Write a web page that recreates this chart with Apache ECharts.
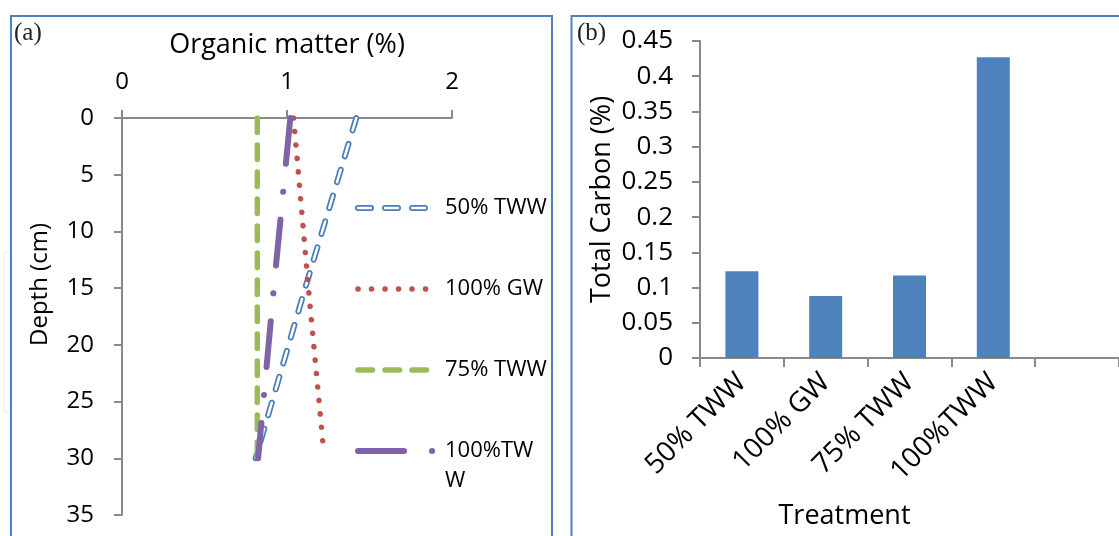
<!DOCTYPE html>
<html><head><meta charset="utf-8">
<script src="https://cdn.jsdelivr.net/npm/echarts@6/dist/echarts.min.js"></script>
<style>html,body{margin:0;padding:0;background:#fff}#c{width:1119px;height:536px}</style>
</head><body><div id="c"></div>
<script>
// ---- data (panel a: organic matter vs depth) ----
const seriesNames = ['50% TWW', '100% GW', '75% TWW', '100%TWW'];
const depths = [0, 15, 30];
const gwDepths = [0, 15, 29];
const om50TWW = [1.42, 1.11, 0.81];
const om100GW = [1.04, 1.13, 1.22];
const om75TWW = [0.82, 0.82, 0.82];
const om100TWW = [1.02, 0.92, 0.825];
const omTicks = [0, 1, 2];
const depthTicks = [0, 5, 10, 15, 20, 25, 30, 35];
// ---- data (panel b: total carbon) ----
const treatments = ['50% TWW', '100% GW', '75% TWW', '100%TWW'];
const totalCarbon = [0.123, 0.088, 0.117, 0.427];

const FONT = "'Open Sans', sans-serif";
const AX = '#8a8a8a';
const C = { blue: '#4a7ebb', red: '#c0504d', green: '#9bbb59', purple: '#7f63a6', bar: '#4f81bd', frame: '#4f81bd' };
const pairs = (xs, ys) => xs.map((x, i) => [x, ys[i]]);

const dashBlue = [13, 14], dotRed = [0.1, 13.4], dashGreen = [14.5, 12.5], dashPurple = [46, 28, 0.1, 28];

function lineSeries(name, data, color, width, dash) {
  return { type: 'line', name, xAxisIndex: 0, yAxisIndex: 0, data, symbol: 'none', silent: true,
    lineStyle: { color, width, type: dash, cap: 'round' } };
}

// legend drawn as graphics
const legendY = [208, 289, 370, 451];
const legendStyles = [
  [{ c: C.blue, w: 6, d: dashBlue }, { c: '#fff', w: 2.5, d: dashBlue }],
  [{ c: C.red, w: 5.5, d: dotRed }],
  [{ c: C.green, w: 5.5, d: dashGreen }],
  [{ c: C.purple, w: 6, d: dashPurple }]
];
const graphics = [];
legendY.forEach((y, i) => {
  legendStyles[i].forEach(s => graphics.push({ type: 'line', silent: true,
    shape: { x1: 358, y1: y, x2: i === 3 ? 433 : 428, y2: y },
    style: { stroke: s.c, lineWidth: s.w, lineDash: s.d, lineCap: 'round' } }));
  graphics.push({ type: 'text', x: 445, y: y - 15, silent: true,
    style: { text: seriesNames[i], fontSize: 22, fontFamily: FONT, fill: '#000', width: 104, overflow: 'breakAll', lineHeight: 30, align: 'left', verticalAlign: 'top' } });
});
// panel frames & labels
graphics.push(
  { type: 'rect', silent: true, shape: { x: 4, y: 252, width: 8, height: 160, r: 2 }, style: { fill: 'none', stroke: '#ececec', lineWidth: 1 }, z: -1 },
  { type: 'rect', silent: true, shape: { x: 11, y: 16, width: 541, height: 560 }, style: { fill: 'none', stroke: C.frame, lineWidth: 2 } },
  { type: 'rect', silent: true, shape: { x: 571.5, y: 16, width: 600, height: 560 }, style: { fill: 'none', stroke: C.frame, lineWidth: 2 } },
  { type: 'text', x: 14, y: 33, silent: true, style: { text: '(a)', fontSize: 25, fontFamily: "'Liberation Serif', serif", fill: '#222', verticalAlign: 'middle' } },
  { type: 'text', x: 577, y: 33, silent: true, style: { text: '(b)', fontSize: 25, fontFamily: "'Liberation Serif', serif", fill: '#222', verticalAlign: 'middle' } }
);

const option = {
  animation: false,
  backgroundColor: '#fff',
  grid: [
    { left: 122, top: 118, width: 330, height: 397 },
    { left: 700, top: 41, width: 428, height: 317 }
  ],
  xAxis: [
    { type: 'value', gridIndex: 0, position: 'top', min: omTicks[0], max: omTicks[omTicks.length - 1], interval: 1,
      name: 'Organic matter (%)', nameLocation: 'middle', nameGap: 59,
      nameTextStyle: { fontSize: 27, fontFamily: FONT, color: '#000' },
      axisLine: { show: true, lineStyle: { color: AX, width: 2 } },
      axisTick: { show: true, length: 8, lineStyle: { color: AX, width: 2 } },
      axisLabel: { fontSize: 24, fontFamily: FONT, color: '#000', margin: 24 },
      splitLine: { show: false } },
    { type: 'category', gridIndex: 1, data: treatments.concat(['']),
      name: 'Treatment', nameLocation: 'middle', nameGap: 145,
      nameTextStyle: { fontSize: 27, fontFamily: FONT, color: '#000', padding: [0, 130, 0, 0] },
      axisLine: { lineStyle: { color: AX, width: 2 } },
      axisTick: { show: true, length: 9, lineStyle: { color: AX, width: 2 } },
      axisLabel: { fontSize: 28, fontFamily: FONT, color: '#000', rotate: 45, margin: 20, interval: 0 },
      splitLine: { show: false } }
  ],
  yAxis: [
    { type: 'value', gridIndex: 0, inverse: true, min: depthTicks[0], max: depthTicks[depthTicks.length - 1], interval: 5,
      name: 'Depth (cm)', nameLocation: 'middle', nameGap: 70,
      nameTextStyle: { fontSize: 24, fontFamily: FONT, color: '#000', padding: [0, 0, 0, 64] },
      axisLine: { show: true, lineStyle: { color: AX, width: 2 } },
      axisTick: { show: true, length: 8, lineStyle: { color: AX, width: 2 } },
      axisLabel: { fontSize: 24, fontFamily: FONT, color: '#000', margin: 28 },
      splitLine: { show: false } },
    { type: 'value', gridIndex: 1, min: 0, max: 0.45, interval: 0.05,
      name: 'Total Carbon (%)', nameLocation: 'middle', nameGap: 84,
      nameTextStyle: { fontSize: 27, fontFamily: FONT, color: '#000' },
      axisLine: { show: true, lineStyle: { color: AX, width: 2 } },
      axisTick: { show: true, length: 8, lineStyle: { color: AX, width: 2 } },
      axisLabel: { fontSize: 26, fontFamily: FONT, color: '#000', margin: 27 },
      splitLine: { show: false } }
  ],
  series: [
    lineSeries('50% TWW', pairs(om50TWW, depths), C.blue, 6, dashBlue),
    lineSeries('50% TWW inner', pairs(om50TWW, depths), '#fff', 2.5, dashBlue),
    lineSeries('100% GW', pairs(om100GW, gwDepths), C.red, 5.5, dotRed),
    lineSeries('75% TWW', pairs(om75TWW, depths), C.green, 5.5, dashGreen),
    lineSeries('100%TWW', pairs(om100TWW, depths), C.purple, 6, dashPurple),
    { type: 'bar', name: 'Total Carbon', xAxisIndex: 1, yAxisIndex: 1, data: totalCarbon, barWidth: 33,
      itemStyle: { color: C.bar }, silent: true }
  ],
  graphic: graphics
};
const chart = echarts.init(document.getElementById('c'), null, { renderer: 'canvas' });
chart.setOption(option);
</script></body></html>
